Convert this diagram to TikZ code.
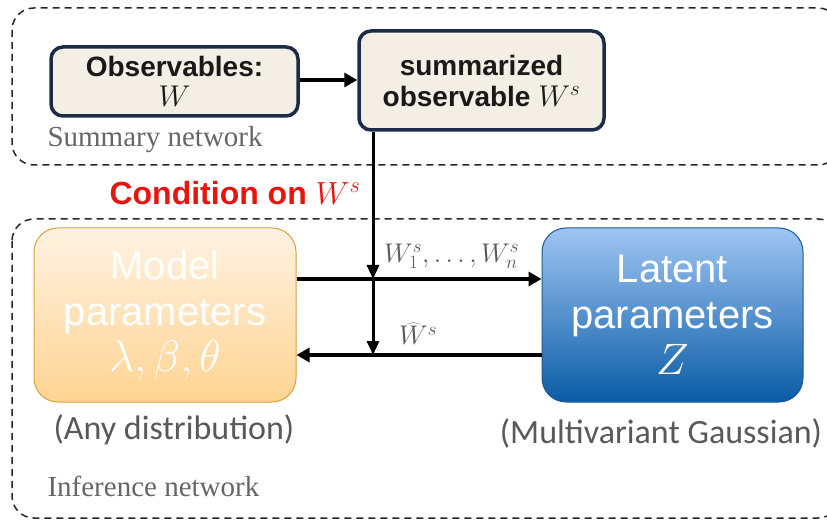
\RequirePackage{fix-cm}
\documentclass[tikz,border=0pt]{standalone}
\usepackage{fontspec}
\setmainfont{Liberation Sans}
\newfontfamily\serifgray{Liberation Serif}
\newfontfamily\carl{Carlito}
\usetikzlibrary{arrows.meta}
\definecolor{beige}{HTML}{F3EFE4}
\definecolor{navy}{HTML}{1E2B48}
\definecolor{orTop}{HTML}{FFF2E2}
\definecolor{orBot}{HTML}{FFD492}
\definecolor{orBorder}{HTML}{D9A33C}
\definecolor{blTop}{HTML}{9FC5F3}
\definecolor{blBot}{HTML}{0A5CA6}
\definecolor{blBorder}{HTML}{1C5A98}
\definecolor{txtgray}{HTML}{595959}
\definecolor{netgray}{HTML}{666666}
\definecolor{condred}{HTML}{E8150E}
\tikzset{
  group/.style={draw=black!85, line width=1.5pt, dash pattern=on 7pt off 5pt, rounded corners=22pt},
  obsbox/.style={draw=navy, fill=beige, line width=3.5pt, rounded corners=12pt, align=center, text=black!90,
    font=\bfseries\fontsize{28}{31}\selectfont},
  modelbox/.style={draw=orBorder, line width=1pt, top color=orTop, bottom color=orBot, rounded corners=24pt,
    minimum width=262pt, minimum height=174pt, align=center, text=white, font=\fontsize{40}{46}\selectfont},
  latentbox/.style={draw=blBorder, line width=1pt, top color=blTop, bottom color=blBot, rounded corners=24pt,
    minimum width=261pt, minimum height=174pt, align=center, text=white, font=\fontsize{40}{46}\selectfont},
  conn/.style={line width=4pt, -{Triangle[length=13pt,width=14pt]}},
  vconn/.style={line width=3pt, -{Triangle[length=14pt,width=12pt]}},
  netlabel/.style={text=netgray, font=\serifgray\fontsize{29}{32}\selectfont, anchor=west},
  distlabel/.style={text=txtgray, font=\carl\fontsize{34}{38}\selectfont},
  arrlabel/.style={text=txtgray, font=\fontsize{27}{30}\selectfont}
}
\begin{document}
\begin{tikzpicture}[x=1pt,y=-1pt]
\useasboundingbox (0,0) rectangle (827,521);
% groups
\draw[group] (12,8) rectangle (840,165);
\draw[group] (12,219) rectangle (840,518);
\node[netlabel] (sumnet) at (44,140) {Summary network};
\node[netlabel] (infnet) at (44,486) {Inference network};
% summary nodes
\node[obsbox, minimum width=247pt, minimum height=69pt] (obs) at (174.5,81.5) {Observables:\\[-1pt]{\fontsize{30}{30}\selectfont$W$}};
\node[obsbox, minimum width=245pt, minimum height=99pt] (sum) at (481.5,80.5) {summarized\\observable {\fontsize{30}{30}\selectfont$W^s$}};
\draw[conn] (obs.east |- 0,80) -- (sum.west |- 0,80);
% condition label
\node[text=condred, font=\bfseries\fontsize{32}{34}\selectfont, anchor=east] (cond) at (364,193) {Condition on {\fontsize{32}{32}\selectfont$W^s$}};
% inference nodes
\node[modelbox] (model) at (165,315) {Model\\parameters\\{\fontsize{44}{46}\selectfont$\lambda,\beta,\theta$}};
\node[latentbox] (latent) at (672.5,315) {Latent\\parameters\\{\fontsize{44}{46}\selectfont$Z$}};
\node[distlabel] (anyd) at (174,430) {(Any distribution)};
\node[distlabel] (mvg) at (661,433) {(Multivariant Gaussian)};
% connectors
\coordinate (jA) at (373,279);
\coordinate (jB) at (373,355);
\draw[conn] (model.east |- jA) -- (latent.west |- jA);
\draw[conn] (latent.west |- jB) -- (model.east |- jB);
\draw[vconn] (jA |- sum.south) -- (jA);
\draw[vconn] (jA) -- (jB);
\node[arrlabel, anchor=south west, inner sep=1pt] (wl) at (383,270) {$W_1^s,\ldots,W_n^s$};
\node[arrlabel, anchor=south west, inner sep=1pt] (wh) at (398,346) {$\widehat{W}^s$};
\end{tikzpicture}
\end{document}
